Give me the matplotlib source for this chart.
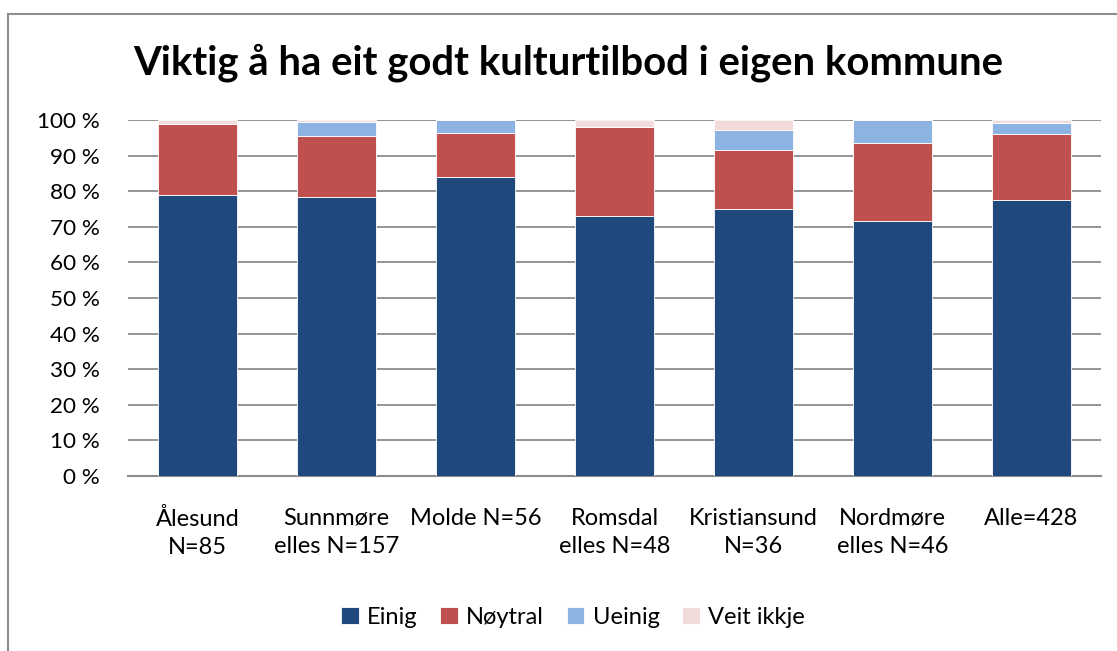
import matplotlib
matplotlib.use("Agg")
import matplotlib.pyplot as plt
import numpy as np
from matplotlib.patches import Rectangle

plt.rcParams['font.family'] = ['Lato', 'DejaVu Sans']

categories = ["Ålesund\nN=85", "Sunnmøre\nelles N=157", "Molde N=56", "Romsdal\nelles N=48",
              "Kristiansund\nN=36", "Nordmøre\nelles N=46", "Alle=428"]
einig = [78.8, 78.3, 83.9, 72.9, 75.0, 71.7, 77.6]
noytral = [20.0, 17.2, 12.5, 25.0, 16.7, 21.7, 18.5]
ueinig = [0.0, 3.8, 3.6, 0.0, 5.6, 6.5, 3.0]
veit_ikkje = [1.2, 0.6, 0.0, 2.1, 2.8, 0.0, 0.9]

series = [("Einig", einig, "#1F497D"),
          ("Nøytral", noytral, "#C0504D"),
          ("Ueinig", ueinig, "#8DB3E2"),
          ("Veit ikkje", veit_ikkje, "#F2DCDB")]

fig = plt.figure(figsize=(11.17, 6.51), dpi=100)
ax = fig.add_axes([128 / 1117, 175 / 651, 973 / 1117, 356 / 651])

x = np.arange(len(categories))
bottom = np.zeros(len(categories))
for name, vals, col in series:
    ax.bar(x, vals, 0.57, bottom=bottom, color=col, label=name,
           edgecolor="white", linewidth=0.6, zorder=3)
    bottom += np.array(vals)

ax.set_xlim(-0.5, len(categories) - 0.5)
ax.set_ylim(0, 100)
ax.set_yticks(np.arange(0, 101, 10))
ax.set_yticklabels([f"{v} %" for v in range(0, 101, 10)], fontsize=16.2)
ax.set_xticks(x)
ax.set_xticklabels(categories, fontsize=17, linespacing=1.4)
ax.tick_params(axis="x", length=0, pad=23)
ax.tick_params(axis="y", length=0, pad=20)
ax.grid(axis="y", color="#8C8C8C", linewidth=1.3, zorder=0)
for s in ["left", "right", "top"]:
    ax.spines[s].set_visible(False)
ax.spines["bottom"].set_color("#8C8C8C")
ax.spines["bottom"].set_linewidth(1.5)

fig.text(0.509, 1 - 63 / 651, "Viktig å ha eit godt kulturtilbod i eigen kommune",
         ha="center", va="center", fontsize=28.8, fontweight="bold")

fig.legend(loc="center", bbox_to_anchor=(0.513, 1 - 617 / 651), ncol=4, frameon=False,
           fontsize=17, handlelength=0.75, handleheight=0.75, handletextpad=0.35,
           columnspacing=0.95)

fig.patches.append(Rectangle((8 / 1117, -0.1), 1.2, 1 - 14 / 651 + 0.1, transform=fig.transFigure,
                             fill=False, edgecolor="#8C8C8C", linewidth=1.5))

fig.savefig("out.png", dpi=100)
